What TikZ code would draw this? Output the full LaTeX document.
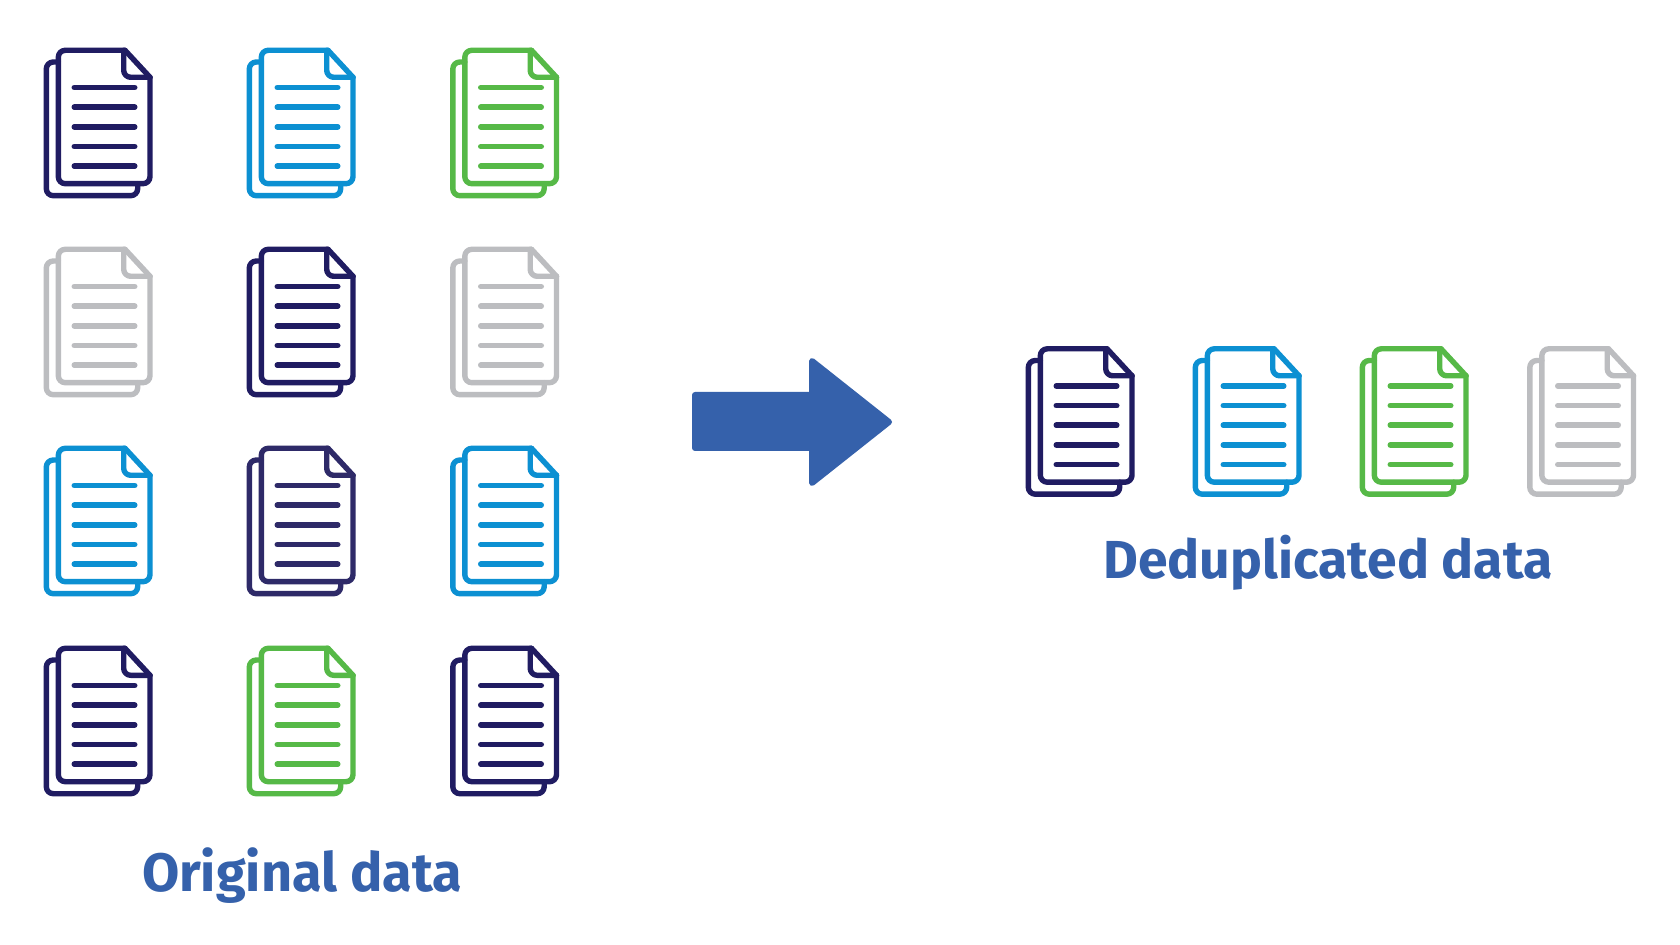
\documentclass[tikz,border=0pt]{standalone}
\usepackage{fontspec}
\setmainfont{Fira Sans}
\definecolor{navy}{HTML}{201C62}
\definecolor{navyb}{HTML}{2E2A68}
\definecolor{skyb}{HTML}{0C90D2}
\definecolor{leaf}{HTML}{56B947}
\definecolor{ash}{HTML}{BCBDC0}
\definecolor{royal}{HTML}{3561AB}
\tikzset{
  x=0.5pt,y=-0.5pt,
  sheet/.style={line width=2.7pt,line join=round,line cap=round},
  textline/.style={line width=2.8pt,line cap=round},
  caption/.style={inner sep=0pt,anchor=base,text=royal,font=\bfseries\fontsize{27}{30}\selectfont},
  captionb/.style={caption,font=\bfseries\fontsize{26.75}{30}\selectfont},
  pics/doc/.style={code={
    \begin{scope}[sheet,draw=#1]
      \draw[rounded corners=3.5pt] (14.3,14) -- (2.3,14) -- (2.3,147.7) -- (93.7,147.7) -- (93.7,135.7);
      \draw[rounded corners=3.5pt] (81,2.3) -- (14.3,2.3) -- (14.3,135.7) -- (106,135.7) -- (106,29.3);
      \draw (81,2.3) -- (106,29.3);
      \draw[rounded corners=3.5pt] (79.7,2.3) -- (79.7,29.3) -- (106,29.3);
      \foreach \ly in {39.5,59.2,78.8,98.5,118.2}
        \draw[textline] (30.3,\ly) -- (90.7,\ly);
    \end{scope}
  }}
}
\begin{document}
\begin{tikzpicture}
\useasboundingbox (0,0) rectangle (1680,945);
\fill[white] (0,0) rectangle (1680,945);
% original data grid
\pic at (44,48) {doc=navy};
\pic at (247,48) {doc=skyb};
\pic at (450.5,48) {doc=leaf};
\pic at (44,247) {doc=ash};
\pic at (247,247) {doc=navy};
\pic at (450.5,247) {doc=ash};
\pic at (44,446) {doc=skyb};
\pic at (247,446) {doc=navyb};
\pic at (450.5,446) {doc=skyb};
\pic at (44,646) {doc=navy};
\pic at (247,646) {doc=leaf};
\pic at (450.5,646) {doc=navy};
% deduplicated row
\pic at (1026,346.5) {doc=navy};
\pic at (1193,346.5) {doc=skyb};
\pic at (1360,346.5) {doc=leaf};
\pic at (1527.5,346.5) {doc=ash};
% arrow
\fill[royal,draw=royal,line width=3pt,line join=round]
  (695,395) -- (812,395) -- (812,361) -- (889,422) -- (812,483) -- (812,448) -- (695,448) -- cycle;
% labels
\node[caption] (orig) at (302,891) {Original data};
\node[captionb] (dedup) at (1328,578.5) {Deduplicated data};
\end{tikzpicture}
\end{document}
